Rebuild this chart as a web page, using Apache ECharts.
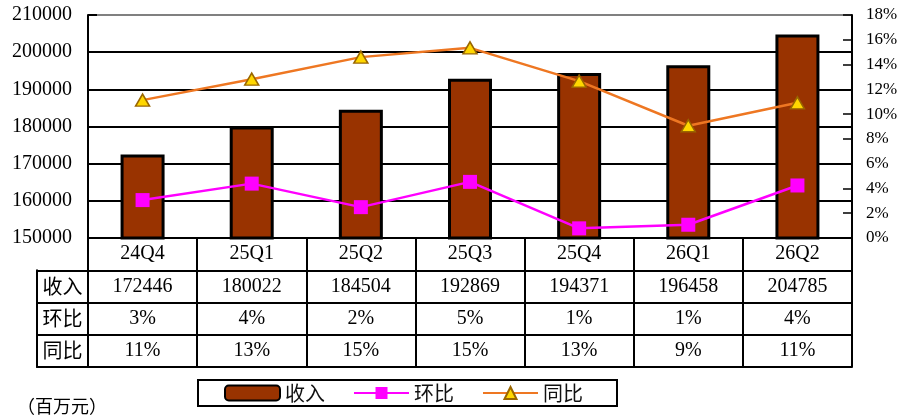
<!DOCTYPE html>
<html>
<head>
<meta charset="utf-8">
<script src="https://cdn.jsdelivr.net/npm/echarts@6/dist/echarts.min.js"></script>
<style>html,body{margin:0;padding:0;background:#fff}#c{width:920px;height:420px}</style>
</head>
<body>
<div id="c"></div>
<script>
var categories = ['24Q4','25Q1','25Q2','25Q3','25Q4','26Q1','26Q2'];
var revenue = [172446, 180022, 184504, 192869, 194371, 196458, 204785];
var qoq = [3.06, 4.39, 2.49, 4.53, 0.78, 1.07, 4.24];
var yoy = [11.13, 12.82, 14.6, 15.35, 12.66, 9.06, 10.91];
var rowNames = ['收入', '环比', '同比'];
var seriesNames = ['收入', '环比', '同比'];
var unitLabel = '（百万元）';

var NUM_FONT = '"Liberation Serif", "Noto Sans CJK SC", serif';
var CJK_FONT = '"Noto Sans CJK SC", sans-serif';

// table cells: [col, row, text]; row 3 = category row, 2 = revenue, 1 = qoq, 0 = yoy
var cells = [];
categories.forEach(function (c, i) {
  cells.push([i, 3, c]);
  cells.push([i, 2, String(revenue[i])]);
  cells.push([i, 1, Math.round(qoq[i]) + '%']);
  cells.push([i, 0, Math.round(yoy[i]) + '%']);
});

var chart = echarts.init(document.getElementById('c'));
chart.setOption({
  animation: false,
  backgroundColor: '#fff',
  title: {
    text: unitLabel, left: 12, top: 392,
    textStyle: { fontFamily: CJK_FONT, fontSize: 18, fontWeight: 'normal', color: '#000' }
  },
  legend: {
    left: 198, top: 380,
    data: seriesNames,
    borderColor: '#000', borderWidth: 2,
    padding: [3, 34, 3, 26],
    itemGap: 28, itemWidth: 55, itemHeight: 15,
    textStyle: { fontFamily: CJK_FONT, fontSize: 20, color: '#111', lineHeight: 16 }
  },
  grid: [
    { left: 88, top: 15, width: 764, height: 223 },
    { left: 88, top: 238, width: 764, height: 129 },
    { left: 37, top: 270.25, width: 51, height: 96.75 }
  ],
  xAxis: [
    { gridIndex: 0, type: 'category', data: categories,
      axisLine: { lineStyle: { color: '#000', width: 2 } },
      axisTick: { show: false }, axisLabel: { show: false }, splitLine: { show: false } },
    { gridIndex: 1, type: 'category', data: categories, position: 'bottom',
      axisLine: { lineStyle: { color: '#000', width: 2 } },
      axisTick: { show: false }, axisLabel: { show: false },
      splitLine: { show: true, lineStyle: { color: '#000', width: 2 } } },
    { gridIndex: 2, type: 'value', min: 0, max: 1, show: true,
      axisLine: { show: true, lineStyle: { color: '#000', width: 2 } },
      axisTick: { show: false }, axisLabel: { show: false }, splitLine: { show: false } }
  ],
  yAxis: [
    { gridIndex: 0, type: 'value', min: 150000, max: 210000, interval: 10000,
      axisLine: { show: true, lineStyle: { color: '#000', width: 2 } },
      axisTick: { show: true, inside: true, length: 9, lineStyle: { color: '#000', width: 2 } },
      axisLabel: { margin: 16, fontFamily: NUM_FONT, fontSize: 20, color: '#000',
        formatter: function (v) { return String(v); } },
      splitLine: { show: true, lineStyle: { color: ['#000','#000','#000','#000','#000','#000','#808080'], width: 2 } } },
    { gridIndex: 0, type: 'value', min: 0, max: 18, interval: 2, position: 'right',
      axisLine: { show: true, lineStyle: { color: '#000', width: 2 } },
      axisTick: { show: true, inside: true, length: 9, lineStyle: { color: '#000', width: 1.5 } },
      axisLabel: { margin: 14, formatter: '{value}%', fontFamily: NUM_FONT, fontSize: 17, color: '#000' },
      splitLine: { show: false } },
    { gridIndex: 1, type: 'value', min: 0, max: 4, interval: 1,
      axisLine: { show: true, lineStyle: { color: '#000', width: 2 } },
      axisTick: { show: false }, axisLabel: { show: false },
      splitLine: { show: true, lineStyle: { color: '#000', width: 2 } } },
    { gridIndex: 2, type: 'value', min: 0, max: 3, interval: 1,
      axisLine: { show: true, lineStyle: { color: '#000', width: 2 } },
      axisTick: { show: false }, axisLabel: { show: false },
      splitLine: { show: true, lineStyle: { color: '#000', width: 2 } } }
  ],
  series: [
    { name: seriesNames[0], type: 'bar', xAxisIndex: 0, yAxisIndex: 0, data: revenue,
      barWidth: 44,
      itemStyle: { color: '#993300', borderColor: '#000', borderWidth: 3 } },
    { name: seriesNames[1], type: 'line', xAxisIndex: 0, yAxisIndex: 1, data: qoq,
      symbol: 'rect', symbolSize: 14,
      lineStyle: { color: '#FF00FF', width: 2.5 },
      itemStyle: { color: '#FF00FF' } },
    { name: seriesNames[2], type: 'line', xAxisIndex: 0, yAxisIndex: 1, data: yoy,
      symbol: 'triangle', symbolSize: [14, 12],
      lineStyle: { color: '#EE7722', width: 2.5 },
      itemStyle: { color: '#FFD700', borderColor: '#996600', borderWidth: 1.5 } },
    { type: 'custom', xAxisIndex: 1, yAxisIndex: 2, data: cells, z: 10,
      renderItem: function (params, api) {
        var p = api.coord([api.value(0), api.value(1) + 0.5]);
        return { type: 'text', x: p[0], y: p[1],
          style: { text: cells[params.dataIndex][2], textAlign: 'center', textVerticalAlign: 'middle',
            fontFamily: NUM_FONT, fontSize: 20, fill: '#000' } };
      } },
    { type: 'custom', xAxisIndex: 2, yAxisIndex: 3, data: rowNames.map(function (r, i) { return [0.5, 2 - i]; }), z: 10,
      renderItem: function (params, api) {
        var p = api.coord([0.5, api.value(1) + 0.5]);
        return { type: 'text', x: p[0], y: p[1],
          style: { text: rowNames[params.dataIndex], textAlign: 'center', textVerticalAlign: 'middle',
            fontFamily: CJK_FONT, fontSize: 20, fill: '#000' } };
      } }
  ]
});
</script>
</body>
</html>
